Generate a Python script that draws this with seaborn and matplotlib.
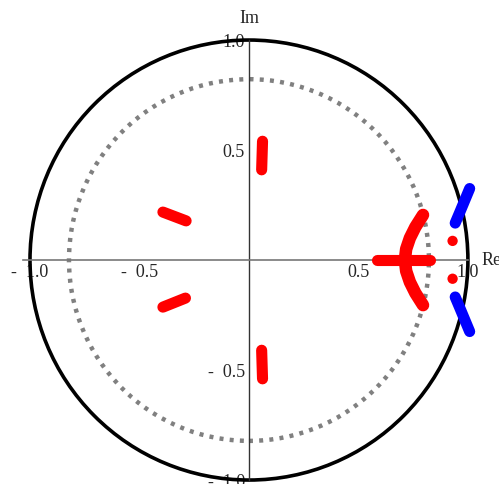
import numpy as np
import matplotlib
matplotlib.use("Agg")
import matplotlib.pyplot as plt
import seaborn as sns

# pieces of the red curve (real part, imaginary part)
seg_top_re = [0.062, 0.058]
seg_top_im = [0.54, 0.41]
seg_bot_re = [0.062, 0.058]
seg_bot_im = [-0.54, -0.41]
seg_lu_re = [-0.393, -0.287]
seg_lu_im = [0.218, 0.178]
seg_ll_re = [-0.393, -0.290]
seg_ll_im = [-0.214, -0.173]
seg_h_re = [0.585, 0.825]
seg_h_im = [0.0, 0.0]
arc_re = [0.795, 0.76, 0.735, 0.718, 0.712, 0.718, 0.735, 0.76, 0.795]
arc_im = [0.205, 0.15, 0.10, 0.05, 0.0, -0.05, -0.10, -0.15, -0.205]
dot_re = [0.93, 0.93]
dot_im = [0.087, -0.085]

# blue pieces
blue_up_re = [0.942, 0.962, 0.985, 1.008]
blue_up_im = [0.168, 0.215, 0.27, 0.325]
blue_dn_re = [0.942, 0.962, 0.985, 1.008]
blue_dn_im = [-0.168, -0.215, -0.27, -0.325]

unit_r = 1.0
inner_r = 0.822

major = [-1.0, -0.5, 0.5, 1.0]
major_labels = ["-  1.0", "-  0.5", "0.5", "1.0"]

sns.set_style("white")
plt.rcParams['font.family'] = ['Liberation Serif', 'DejaVu Serif']

fig = plt.figure(figsize=(4.99, 4.84), dpi=100)
ax = fig.add_axes([0, 0, 1, 1])
ax.set_xlim(-1.137, 1.142)
ax.set_ylim(-1.018, 1.182)

ax.add_patch(plt.Circle((0, 0), inner_r, fill=False, color="gray", lw=3.2,
                        ls=(0, (0.9, 1.4)), zorder=2))
ax.add_patch(plt.Circle((0, 0), unit_r, fill=False, color="black", lw=2.6, zorder=3))

red = "#ff0000"
blue = "#0000ff"
for xs, ys in [(seg_top_re, seg_top_im), (seg_bot_re, seg_bot_im),
               (seg_lu_re, seg_lu_im), (seg_ll_re, seg_ll_im),
               (seg_h_re, seg_h_im)]:
    sns.lineplot(x=xs, y=ys, sort=False, estimator=None, color=red, lw=8, ax=ax)
sns.lineplot(x=arc_re, y=arc_im, sort=False, estimator=None, color=red, lw=9, ax=ax)
for xs, ys in [(blue_up_re, blue_up_im), (blue_dn_re, blue_dn_im)]:
    sns.lineplot(x=xs, y=ys, sort=False, estimator=None, color=blue, lw=8, ax=ax)
for ln in ax.lines:
    ln.set_solid_capstyle("round")
    ln.set_zorder(4)
sns.scatterplot(x=dot_re, y=dot_im, color=red, s=55, edgecolor="none", ax=ax, zorder=5)

# axes through the origin, Mathematica style
for s in ["top", "right"]:
    ax.spines[s].set_visible(False)
ax.spines["left"].set_position(("data", 0))
ax.spines["bottom"].set_position(("data", 0))
ax.spines["bottom"].set_color("#777777")
ax.spines["left"].set_color("#333333")
ax.spines["bottom"].set_bounds(-1.03, 1.0)
ax.spines["left"].set_bounds(-1.0, 1.0)
ax.spines["bottom"].set_linewidth(1.2)
ax.spines["left"].set_linewidth(1.0)
ax.spines["bottom"].set_zorder(3.5)
ax.spines["left"].set_zorder(3.5)

ax.set_xticks(major)
ax.set_xticklabels(major_labels)
ax.set_yticks(major)
ax.set_yticklabels(major_labels)
ax.set_xticks(np.arange(-1.0, 1.01, 0.1), minor=True)
ax.set_yticks(np.arange(-1.0, 1.01, 0.1), minor=True)
ax.tick_params(which="major", direction="in", length=4, width=0.8, labelsize=13, pad=3)
ax.tick_params(which="minor", direction="in", length=2, width=0.6)

ax.text(0.0, 1.1, "Im", fontsize=13, ha="center", va="center")
ax.text(1.06, 0.0, "Re", fontsize=13, ha="left", va="center")

fig.savefig("out.png", dpi=100)
